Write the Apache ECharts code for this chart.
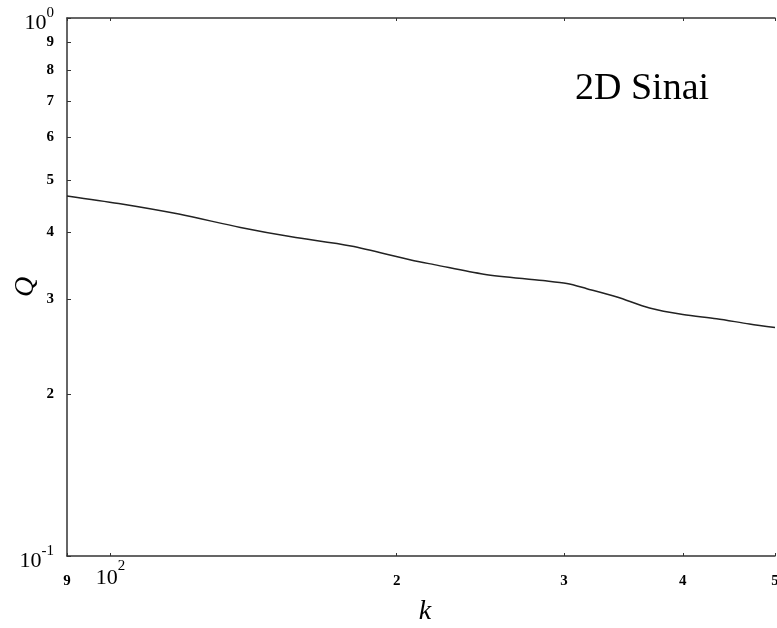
<!DOCTYPE html>
<html>
<head>
<meta charset="utf-8">
<script src="https://cdn.jsdelivr.net/npm/echarts@6/dist/echarts.min.js"></script>
<style>
html,body{margin:0;padding:0;background:#fff;}
#chart{width:777px;height:628px;}
</style>
</head>
<body>
<div id="chart"></div>
<script>
// Data
const kValues = [90, 102, 118, 137, 155, 179, 207, 219, 247, 285, 302, 317, 341, 369, 400, 434, 470, 500];
const qValues = [0.467, 0.452, 0.432, 0.408, 0.392, 0.377, 0.355, 0.348, 0.334, 0.325, 0.321, 0.314, 0.303, 0.289, 0.281, 0.276, 0.270, 0.266];

const xTickValues = [90, 100, 200, 300, 400, 500];
const xTickLabels = ['9', '10^2', '2', '3', '4', '5'];
const yTickValues = [0.1, 0.2, 0.3, 0.4, 0.5, 0.6, 0.7, 0.8, 0.9, 1];
const yTickLabels = ['10^-1', '2', '3', '4', '5', '6', '7', '8', '9', '10^0'];

const annotation = '2D Sinai';
const xName = 'k';
const yName = 'Q';

const SERIF = '"Liberation Serif", "DejaVu Serif", serif';
const AXIS_COLOR = '#333';

function lookup(values, labels, v) {
  for (let i = 0; i < values.length; i++) {
    if (Math.abs(values[i] - v) <= 1e-6 * Math.abs(values[i])) return labels[i];
  }
  return '';
}
function toRichX(lbl) {
  if (lbl.indexOf('^') >= 0) {
    const p = lbl.split('^');
    return '{h|\u200b}{b|' + p[0] + '}{s|' + p[1] + '}';
  }
  return '{h|\u200b}{n|' + lbl + '}';
}
function toRichY(lbl) {
  if (lbl.indexOf('^') >= 0) {
    const p = lbl.split('^');
    return '{p|\u200b}\n{h|\u200b}{b|' + p[0] + '}{s|' + p[1] + '}';
  }
  return '{n|' + lbl + '}';
}

const xRich = {
  h: {fontSize: 1, lineHeight: 30, width: 0},
  n: {fontFamily: SERIF, fontSize: 15, fontWeight: 'bold', color: '#000', lineHeight: 14, verticalAlign: 'bottom'},
  b: {fontFamily: SERIF, fontSize: 22, color: '#000', lineHeight: 20, verticalAlign: 'bottom'},
  s: {fontFamily: SERIF, fontSize: 15, color: '#000', lineHeight: 22, verticalAlign: 'top'}
};
const yRich = {
  p: {fontSize: 1, lineHeight: 4, width: 0},
  h: {fontSize: 1, lineHeight: 29, width: 0},
  n: {fontFamily: SERIF, fontSize: 15, fontWeight: 'bold', color: '#000', lineHeight: 12, verticalAlign: 'middle'},
  b: {fontFamily: SERIF, fontSize: 22, color: '#000', lineHeight: 16, verticalAlign: 'bottom'},
  s: {fontFamily: SERIF, fontSize: 15, color: '#000', lineHeight: 24, verticalAlign: 'top'}
};

const chart = echarts.init(document.getElementById('chart'), null, {renderer: 'canvas'});
const option = {
  backgroundColor: '#fff',
  animation: false,
  grid: {left: 67, right: 2, top: 18, bottom: 72, containLabel: false, outerBoundsMode: 'none'},
  xAxis: [
    {
      type: 'log', logBase: 10, min: 90, max: 500, position: 'bottom',
      name: xName, nameLocation: 'middle', nameGap: 42, nameMoveOverlap: false,
      nameTextStyle: {fontFamily: SERIF, fontStyle: 'italic', fontSize: 28, color: '#000', padding: [0, 0, 0, 8]},
      axisLine: {show: true, lineStyle: {color: AXIS_COLOR, width: 1.5}},
      axisTick: {show: true, inside: true, length: 3, customValues: xTickValues, lineStyle: {color: AXIS_COLOR}},
      minorTick: {show: false},
      splitLine: {show: false},
      axisLabel: {
        show: true, margin: 3, customValues: xTickValues, rich: xRich, hideOverlap: false,
        showMinLabel: true, showMaxLabel: true,
        formatter: function (v) { return toRichX(lookup(xTickValues, xTickLabels, v)); }
      }
    },
    {
      type: 'log', logBase: 10, min: 90, max: 500, position: 'top',
      axisLine: {show: true, lineStyle: {color: AXIS_COLOR, width: 1.5}},
      axisTick: {show: true, inside: true, length: 3, customValues: xTickValues, lineStyle: {color: AXIS_COLOR}},
      minorTick: {show: false},
      splitLine: {show: false},
      axisLabel: {show: false}
    }
  ],
  yAxis: {
    type: 'log', logBase: 10, min: 0.1, max: 1,
    name: yName, nameLocation: 'middle', nameGap: 27, nameRotate: 90, nameMoveOverlap: false,
    nameTextStyle: {fontFamily: SERIF, fontStyle: 'italic', fontSize: 28, color: '#000'},
    axisLine: {show: true, lineStyle: {color: AXIS_COLOR, width: 1.5}},
    axisTick: {show: true, inside: true, length: 4, customValues: yTickValues, lineStyle: {color: AXIS_COLOR}},
    minorTick: {show: false},
    splitLine: {show: false},
    axisLabel: {
      show: true, margin: 13, customValues: yTickValues, rich: yRich, hideOverlap: false,
      showMinLabel: true, showMaxLabel: true,
      formatter: function (v) { return toRichY(lookup(yTickValues, yTickLabels, v)); }
    }
  },
  series: [{
    type: 'line',
    xAxisIndex: 0,
    data: kValues.map((k, i) => [k, qValues[i]]),
    showSymbol: false,
    smooth: 0.3,
    lineStyle: {color: '#222', width: 1.5},
    silent: true
  }],
  graphic: [{
    type: 'text',
    left: 575, top: 70,
    style: {text: annotation, fontFamily: SERIF, fontSize: 38, fill: '#000'}
  }]
};
chart.setOption(option);
</script>
</body>
</html>
